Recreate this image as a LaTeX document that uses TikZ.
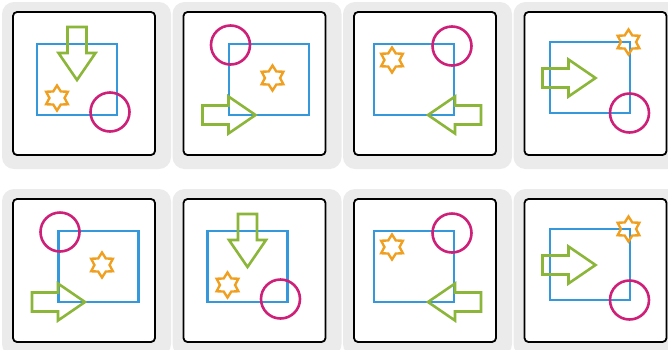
\documentclass[tikz,border=0pt]{standalone}
\usepackage{tikz}
\usetikzlibrary{positioning,shapes.geometric}

\definecolor{boxblue}{RGB}{52,152,219}
\definecolor{arrowgreen}{RGB}{140,182,58}
\definecolor{ringpink}{RGB}{206,32,120}
\definecolor{staramber}{RGB}{240,160,32}

\tikzset{
  tileframe/.style={fill=black!8,rounded corners=12pt},
  tilepanel/.style={draw=black,line width=1.8pt,fill=white,rounded corners=4pt},
  bluebox/.style={draw=boxblue,line width=2.8pt,minimum width=80pt,minimum height=71pt,inner sep=0pt},
  pinkring/.style={circle,draw=ringpink,line width=2.6pt,minimum size=39pt,inner sep=0pt},
  amberstar/.style={star,star points=6,star point ratio=1.65,draw=staramber,line width=2.4pt,minimum size=25pt,inner sep=0pt},
  blockarrow/.pic={\draw[arrowgreen,line width=2.6pt,line join=miter]
    (0,0) -- (-27,-18.5) -- (-27,-9.5) -- (-53,-9.5) -- (-53,9.5) -- (-27,9.5) -- (-27,18.5) -- cycle;},
  tile/.pic={\fill[tileframe] (-11,-10) rectangle (158,157);
    \draw[tilepanel] (0,0) rectangle (142,143);},
  % arrow down, star bottom left, ring bottom right
  tileA/.pic={\pic{tile};
    \node[bluebox] (-box) at (64,67.5) {};
    \pic[rotate=-90] at (64,68) {blockarrow};
    \node[amberstar] (-star) at (44,86) {};
    \node[pinkring] (-ring) at (97,100) {};},
  % arrow right, ring top left
  tileB/.pic={\pic{tile};
    \node[bluebox] (-box) at (85.5,67.5) {};
    \pic at (72,103) {blockarrow};
    \node[amberstar] (-star) at (89,66) {};
    \node[pinkring] (-ring) at (47,33) {};},
  % arrow left, ring top right
  tileC/.pic={\pic{tile};
    \node[bluebox] (-box) at (60,67.5) {};
    \pic[rotate=180] at (74,103) {blockarrow};
    \node[amberstar] (-star) at (38,48) {};
    \node[pinkring] (-ring) at (98,34) {};},
  % arrow right, star and ring on the right corners
  tileD/.pic={\pic{tile};
    \node[bluebox] (-box) at (65.5,65.5) {};
    \pic at (71,66) {blockarrow};
    \node[pinkring] (-ring) at (105,101) {};
    \node[amberstar] (-star) at (104,30) {};},
}

\begin{document}
\begin{tikzpicture}[x=1pt,y=-1pt]
\useasboundingbox (0,0) rectangle (668,349);
\clip (0,0) rectangle (668,349);
\pic (t1) at (13,12) {tileA};    \pic (t2) at (183.5,12) {tileB};
\pic (t3) at (354,12) {tileC};   \pic (t4) at (524.5,12) {tileD};
\pic (t5) at (13,199) {tileB};   \pic (t6) at (183.5,199) {tileA};
\pic (t7) at (354,199) {tileC};  \pic (t8) at (524.5,199) {tileD};
\end{tikzpicture}
\end{document}
